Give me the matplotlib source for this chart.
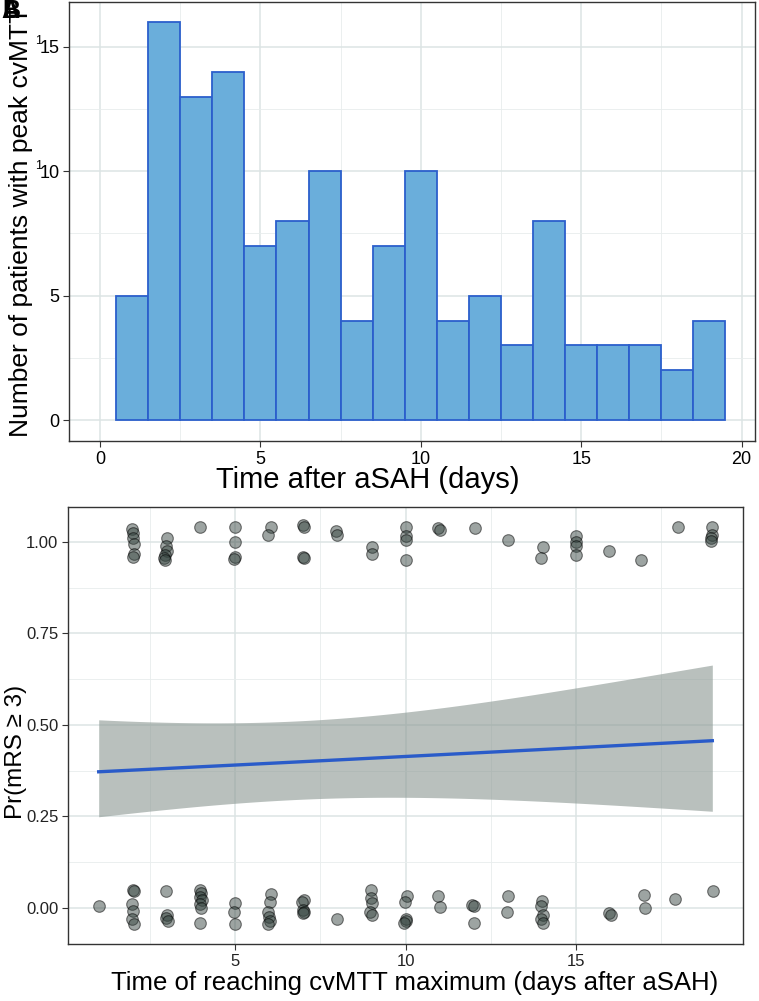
import numpy as np
import matplotlib
matplotlib.use("Agg")
import matplotlib.pyplot as plt
from matplotlib import font_manager as fm
from matplotlib.ticker import MultipleLocator

# ---------------- data ----------------
# Panel A: histogram of days to peak cvMTT
hist_days = [1, 2, 3, 4, 5, 6, 7, 8, 9, 10, 11, 12, 13, 14, 15, 16, 17, 18, 19]
hist_counts = [5, 16, 13, 14, 7, 8, 10, 4, 7, 10, 4, 5, 3, 8, 3, 3, 3, 2, 4]

# Panel B: jittered outcome points (day of cvMTT maximum, poor outcome 0/1)
pts_x = [1.97, 2.00, 2.02, 2.03, 2.03, 2.00,
         3.00, 2.98, 3.00, 2.95, 2.93, 2.95,
         3.98,
         5.00, 5.00, 5.00, 4.98,
         6.05, 5.98,
         7.00, 7.03, 7.00, 7.03,
         7.97, 8.00,
         9.03, 9.03,
         10.00, 10.00, 10.02, 10.00,
         10.95, 11.00,
         12.03,
         13.00,
         14.03, 13.97,
         15.00, 15.00, 15.00, 15.00,
         15.97,
         16.90,
         18.00,
         18.98, 18.98, 18.96, 18.96,
         # bottom row
         1.00,
         2.00, 2.03, 1.97, 2.00, 1.97, 2.03,
         2.98, 3.00, 2.97, 3.02,
         3.98, 4.00, 3.97, 4.02, 3.97, 4.00, 3.98,
         5.00, 4.98, 5.00,
         6.05, 6.02, 5.98, 6.00, 6.03, 5.98,
         7.02, 6.97, 7.00, 7.03, 6.98,
         8.00,
         9.00, 9.00, 9.02, 8.97, 9.03,
         10.05, 9.98, 10.00, 10.02, 9.97,
         10.95, 11.00,
         11.95, 12.00, 12.02,
         13.00, 12.97,
         14.00, 13.97, 14.03, 13.98, 14.02,
         15.97, 16.02,
         17.00, 17.02,
         17.90,
         19.02]
pts_y = [1.035, 1.025, 1.010, 0.995, 0.968, 0.960,
         1.010, 0.990, 0.975, 0.965, 0.955, 0.950,
         1.040,
         1.040, 1.000, 0.958, 0.953,
         1.040, 1.020,
         1.045, 1.040, 0.960, 0.955,
         1.030, 1.020,
         0.985, 0.967,
         1.040, 1.015, 1.005, 0.950,
         1.038, 1.033,
         1.037,
         1.005,
         0.985, 0.957,
         1.015, 1.000, 0.990, 0.965,
         0.974,
         0.950,
         1.042,
         1.040, 1.020, 1.010, 1.003,
         # bottom row
         0.005,
         0.048, 0.045, 0.010, -0.008, -0.030, -0.045,
         0.046, -0.020, -0.027, -0.035,
         0.048, 0.040, 0.030, 0.022, 0.010, 0.000, -0.040,
         0.013, -0.010, -0.045,
         0.037, 0.015, -0.010, -0.025, -0.035, -0.045,
         0.022, 0.015, -0.005, -0.010, -0.015,
         -0.030,
         0.049, 0.028, 0.014, -0.010, -0.020,
         0.034, 0.017, -0.030, -0.035, -0.040,
         0.034, 0.002,
         0.008, 0.005, -0.040,
         0.034, -0.012,
         0.019, 0.005, -0.020, -0.030, -0.040,
         -0.015, -0.020,
         0.035, 0.000,
         0.025,
         0.045]

# logistic fit (link scale coefficients and covariance)
fit_coef = [-0.543, 0.0195]
fit_cov = [[0.0997, -0.00658], [-0.00658, 0.00094]]
fit_range = [1, 19]

# ---------------- fonts ----------------
avail = {f.name for f in fm.fontManager.ttflist}
narrow = "Liberation Sans Narrow" if "Liberation Sans Narrow" in avail else "Liberation Sans"
regular = "Liberation Sans" if "Liberation Sans" in avail else "DejaVu Sans"

fig = plt.figure(figsize=(7.59, 10.01), dpi=100)
W, H = 759, 1001

def ax_rect(l, t, r, b):
    return [l / W, 1 - b / H, (r - l) / W, (b - t) / H]

grid_major = "#dce4e4"
grid_minor = "#e8eded"
spine_c = "#333333"

# ---------------- Panel A ----------------
axA = fig.add_axes(ax_rect(69, 2, 755, 441))
axA.set_xlim(-0.967, 20.42)
axA.set_ylim(-0.84, 16.8)
axA.xaxis.set_major_locator(MultipleLocator(5))
axA.xaxis.set_minor_locator(MultipleLocator(2.5))
axA.yaxis.set_major_locator(MultipleLocator(5))
axA.yaxis.set_minor_locator(MultipleLocator(2.5))
axA.grid(True, which="major", color=grid_major, lw=1.1, zorder=0)
axA.grid(True, which="minor", color=grid_minor, lw=0.6, zorder=0)
axA.set_axisbelow(True)
axA.bar(hist_days, hist_counts, width=1.0, color="#6aaedb", edgecolor="#2b5fcc",
        linewidth=1.3, zorder=2)
for s in axA.spines.values():
    s.set_color(spine_c)
    s.set_linewidth(1.0)
axA.tick_params(which="minor", length=0)
axA.tick_params(which="major", length=4, color=spine_c, labelsize=13, pad=3)
for lab in axA.get_xticklabels() + axA.get_yticklabels():
    lab.set_fontfamily(narrow)
axA.set_xlabel("Time after aSAH (days)", fontsize=21, family=narrow)
axA.xaxis.set_label_coords(0.435, -0.058)
axA.set_ylabel("Number of patients with peak cvMTT", fontsize=19, family=regular)
axA.yaxis.set_label_coords(-0.052, 0.5)
fig.text(35 / W, 1 - 41 / H, "1", fontsize=9, family=narrow, ha="left", va="center")
fig.text(35 / W, 1 - 166 / H, "1", fontsize=9, family=narrow, ha="left", va="center")
fig.text(1 / W, 1 - 11 / H, "A", fontsize=18, weight="bold", family=regular,
         ha="left", va="center")
fig.text(2 / W, 1 - 11 / H, "B", fontsize=18, weight="bold", family=regular,
         ha="left", va="center")

# ---------------- Panel B ----------------
axB = fig.add_axes(ax_rect(68, 507, 743, 944))
axB.set_xlim(0.1, 19.9)
axB.set_ylim(-0.0985, 1.0955)
axB.xaxis.set_major_locator(MultipleLocator(5))
axB.xaxis.set_minor_locator(MultipleLocator(2.5))
axB.yaxis.set_major_locator(MultipleLocator(0.25))
axB.yaxis.set_minor_locator(MultipleLocator(0.125))
axB.grid(True, which="major", color=grid_major, lw=1.1, zorder=0)
axB.grid(True, which="minor", color=grid_minor, lw=0.6, zorder=0)
axB.set_axisbelow(True)

xs = np.linspace(fit_range[0], fit_range[1], 120)
X = np.column_stack([np.ones_like(xs), xs])
eta = X @ np.array(fit_coef)
se = np.sqrt(np.einsum("ij,jk,ik->i", X, np.array(fit_cov), X))
inv = lambda z: 1 / (1 + np.exp(-z))
axB.fill_between(xs, inv(eta - 1.96 * se), inv(eta + 1.96 * se),
                 color="#8e9a95", alpha=0.62, lw=0, zorder=2)
axB.plot(xs, inv(eta), color="#2a5bc9", lw=2.4, zorder=3)

axB.scatter(pts_x, pts_y, s=70, facecolor=(0.2, 0.26, 0.24, 0.48),
            edgecolor=(0, 0, 0, 0.5), linewidth=0.8, zorder=4)

for s in axB.spines.values():
    s.set_color(spine_c)
    s.set_linewidth(1.0)
axB.tick_params(which="minor", length=0)
axB.tick_params(which="major", length=4, color=spine_c, labelsize=12, pad=3,
                labelcolor="#222222")
axB.set_yticks([0, 0.25, 0.5, 0.75, 1.0])
axB.set_yticklabels(["0.00", "0.25", "0.50", "0.75", "1.00"])
for lab in axB.get_xticklabels() + axB.get_yticklabels():
    lab.set_fontfamily(regular)
axB.set_xlabel("Time of reaching cvMTT maximum (days after aSAH)", fontsize=18.5,
               family=regular)
axB.xaxis.set_label_coords(0.514, -0.062)
axB.set_ylabel("Pr(mRS \u2265 3)", fontsize=17.5, family=regular)
axB.yaxis.set_label_coords(-0.06, 0.44)

fig.savefig("out.png", dpi=100)
